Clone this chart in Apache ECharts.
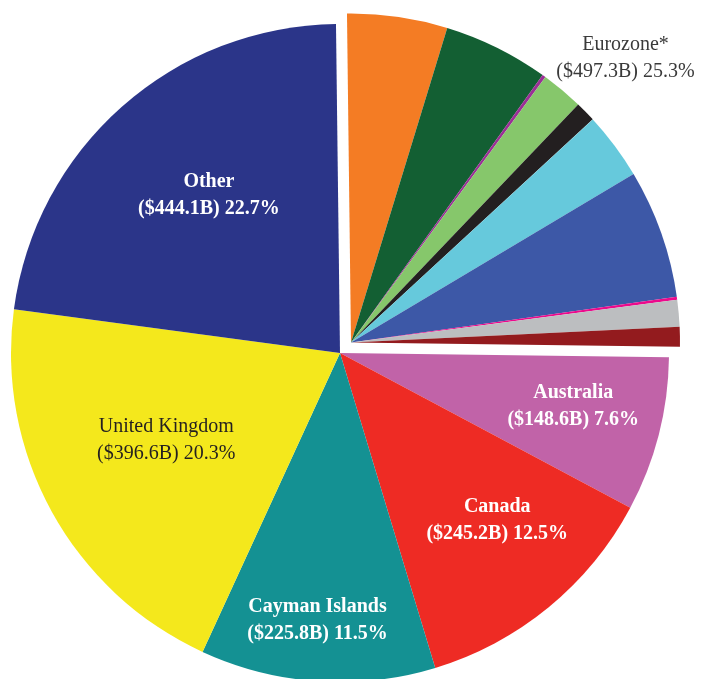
<!DOCTYPE html>
<html>
<head>
<meta charset="utf-8">
<script src="https://cdn.jsdelivr.net/npm/echarts@6/dist/echarts.min.js"></script>
<style>
html,body{margin:0;padding:0;background:#fff;}
#chart{width:701px;height:679px;}
</style>
</head>
<body>
<div id="chart"></div>
<script>
// ---- data ----
const groupNames = ['Eurozone*', 'Australia', 'Canada', 'Cayman Islands', 'United Kingdom', 'Other'];
const groupValues = [497.3, 148.6, 245.2, 225.8, 396.6, 444.1];
const groupPercents = [25.3, 7.6, 12.5, 11.5, 20.3, 22.7];

const euroNames = ['Eurozone 1', 'Eurozone 2', 'Eurozone 3', 'Eurozone 4', 'Eurozone 5',
                   'Eurozone 6', 'Eurozone 7', 'Eurozone 8', 'Eurozone 9', 'Eurozone 10'];
const euroValues = [96.3, 101.2, 3.3, 40.5, 19.7, 64.6, 124.2, 2.7, 25.7, 19.1];

// ---- styles ----
const groupColors = ['rgba(0,0,0,0)', '#c163a8', '#ee2b24', '#149193', '#f4e81c', '#2b3589'];
const euroColors = ['#f47c24', '#135f33', '#9b2f96', '#86c76b', '#231f20',
                    '#66c9dc', '#3d58a7', '#ec0a8c', '#bcbec0', '#931b1e'];
const labelColors = ['#3a3a3a', '#ffffff', '#ffffff', '#ffffff', '#231f20', '#ffffff'];
const labelWeights = ['normal', 'bold', 'bold', 'bold', 'normal', 'bold'];
const labelNudges = [[167, -176], [71, 12], [51, 38], [-11, 100], [-27, 6], [-20, -32]];

const mainCenter = [340, 353];
const euroCenter = [351, 342.5];
const pieRadius = 329;
const pieStart = 90.7;
const fontFamily = "'Liberation Serif', 'DejaVu Serif', serif";

const restTotal = groupValues.slice(1).reduce((a, b) => a + b, 0);

const mainData = groupNames.map((n, i) => ({
  name: n,
  value: groupValues[i],
  itemStyle: { color: groupColors[i] },
  label: { color: labelColors[i], fontWeight: labelWeights[i] }
}));

const euroData = euroNames.map((n, i) => ({
  name: n, value: euroValues[i], itemStyle: { color: euroColors[i] }
}));
euroData.push({ name: 'rest', value: restTotal, itemStyle: { color: 'rgba(0,0,0,0)' } });

const chart = echarts.init(document.getElementById('chart'), null, { renderer: 'canvas' });
chart.setOption({
  animation: false,
  backgroundColor: '#ffffff',
  series: [
    {
      type: 'pie',
      center: euroCenter,
      radius: [0, pieRadius],
      startAngle: pieStart,
      clockwise: true,
      silent: true,
      avoidLabelOverlap: false,
      itemStyle: { borderWidth: 0 },
      label: { show: false },
      labelLine: { show: false },
      emphasis: { disabled: true },
      data: euroData,
      z: 2
    },
    {
      type: 'pie',
      center: mainCenter,
      radius: [0, pieRadius],
      startAngle: pieStart,
      clockwise: true,
      silent: true,
      avoidLabelOverlap: false,
      itemStyle: { borderWidth: 0 },
      emphasis: { disabled: true },
      labelLine: { show: false },
      label: {
        show: true,
        position: 'inside',
        fontFamily: fontFamily,
        fontSize: 20,
        lineHeight: 27,
        align: 'center',
        formatter: function (p) {
          const i = p.dataIndex;
          return groupNames[i] + '\n($' + groupValues[i].toFixed(1) + 'B) ' + groupPercents[i].toFixed(1) + '%';
        }
      },
      labelLayout: function (p) {
        const n = labelNudges[p.dataIndex];
        return { dx: n[0], dy: n[1] };
      },
      data: mainData,
      z: 3
    }
  ]
});
</script>
</body>
</html>
